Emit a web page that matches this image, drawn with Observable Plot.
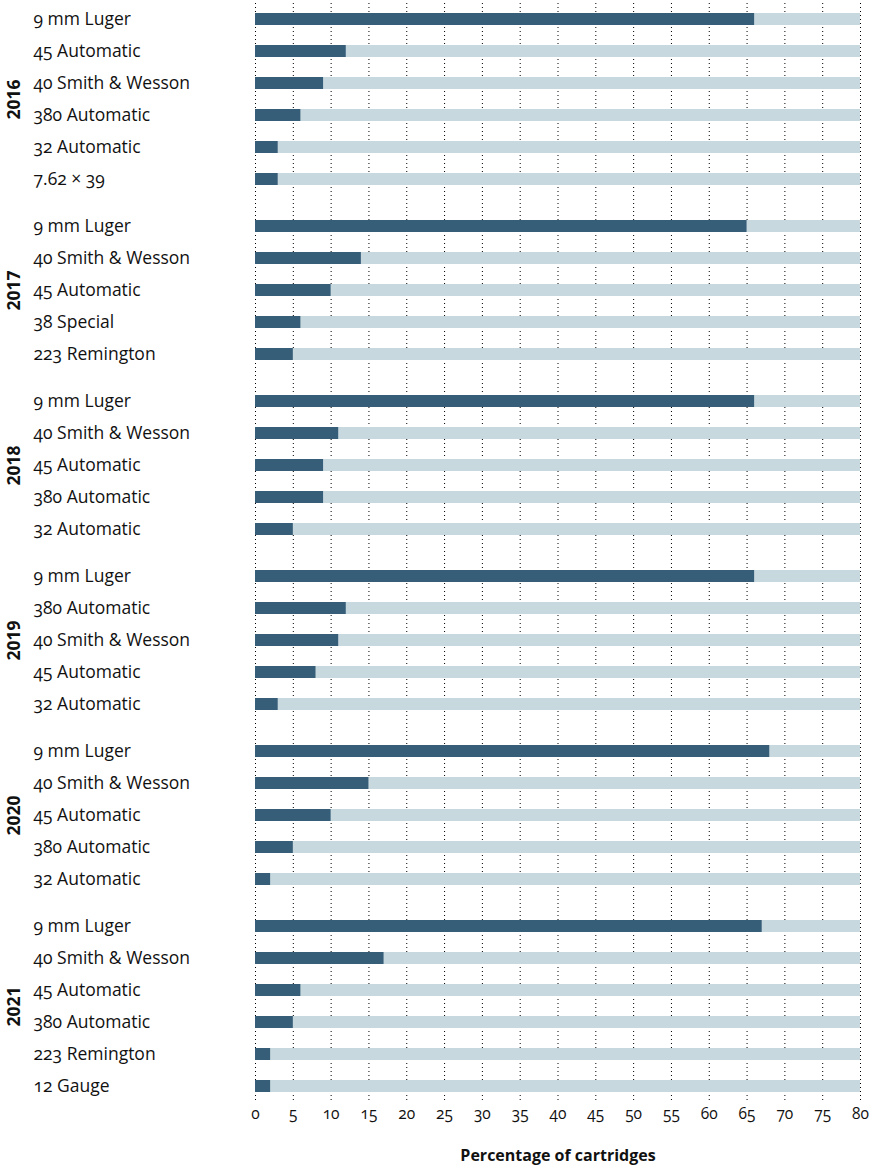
<!DOCTYPE html>
<html>
<head>
<meta charset="utf-8">
<script src="https://cdn.jsdelivr.net/npm/d3@7"></script>
<script src="https://cdn.jsdelivr.net/npm/@observablehq/plot@0.6"></script>
<style>
  body { margin: 0; background: #fff; }
  #chart svg { font-family: "Open Sans", Lato, sans-serif; font-variant-numeric: oldstyle-nums; font-feature-settings: "onum"; }
  #chart g[aria-label="x-axis label"] text { font-weight: bold; font-size: 16px; font-variant-numeric: lining-nums; }
  #chart .year-label text { font-variant-numeric: lining-nums; font-feature-settings: "lnum"; }
</style>
</head>
<body>
<div id="chart"></div>
<script>
const years = ["2016", "2017", "2018", "2019", "2020", "2021"];
const cartridges2016 = ["9 mm Luger", "45 Automatic", "40 Smith & Wesson", "380 Automatic", "32 Automatic", "7.62 × 39"];
const values2016 = [66, 12, 9, 6, 3, 3];
const cartridges2017 = ["9 mm Luger", "40 Smith & Wesson", "45 Automatic", "38 Special", "223 Remington"];
const values2017 = [65, 14, 10, 6, 5];
const cartridges2018 = ["9 mm Luger", "40 Smith & Wesson", "45 Automatic", "380 Automatic", "32 Automatic"];
const values2018 = [66, 11, 9, 9, 5];
const cartridges2019 = ["9 mm Luger", "380 Automatic", "40 Smith & Wesson", "45 Automatic", "32 Automatic"];
const values2019 = [66, 12, 11, 8, 3];
const cartridges2020 = ["9 mm Luger", "40 Smith & Wesson", "45 Automatic", "380 Automatic", "32 Automatic"];
const values2020 = [68, 15, 10, 5, 2];
const cartridges2021 = ["9 mm Luger", "40 Smith & Wesson", "45 Automatic", "380 Automatic", "223 Remington", "12 Gauge"];
const values2021 = [67, 17, 6, 5, 2, 2];
const xTicks = [0, 5, 10, 15, 20, 25, 30, 35, 40, 45, 50, 55, 60, 65, 70, 75, 80];
const xLabel = "Percentage of cartridges";

const cartridgeLists = [cartridges2016, cartridges2017, cartridges2018, cartridges2019, cartridges2020, cartridges2021];
const valueLists = [values2016, values2017, values2018, values2019, values2020, values2021];

const groupGap = 15 / 32; // extra space between year groups, in row units
const rows = [];
let idx = 0;
years.forEach((year, g) => {
  cartridgeLists[g].forEach((c, i) => {
    rows.push({year, cartridge: c, pct: valueLists[g][i], pos: idx + g * groupGap});
    idx++;
  });
});
const groups = years.map(year => {
  const r = rows.filter(d => d.year === year);
  return {year, pos: d3.mean(r, d => d.pos)};
});
const maxPos = d3.max(rows, d => d.pos);
const xMax = xTicks[xTicks.length - 1];

const chart = Plot.plot({
  width: 877,
  height: 1166,
  marginLeft: 255,
  marginRight: 17,
  marginTop: 3,
  marginBottom: 64,
  x: {domain: [0, xMax]},
  y: {domain: [-0.5, maxPos + 0.5], reverse: true, axis: null},
  marks: [
    Plot.gridX(xTicks, {stroke: "#000", strokeOpacity: 1, strokeDasharray: "1,3", strokeWidth: 1}),
    Plot.rectX(rows, {x1: 0, x2: xMax, y1: d => d.pos - 0.5, y2: d => d.pos + 0.5, insetTop: 10, insetBottom: 10, fill: "#c7d8df"}),
    Plot.rectX(rows, {x1: 0, x2: "pct", y1: d => d.pos - 0.5, y2: d => d.pos + 0.5, insetTop: 10, insetBottom: 10, fill: "#375e79"}),
    Plot.text(rows, {y: "pos", text: "cartridge", frameAnchor: "left", dx: -222, textAnchor: "start", fontSize: 17.5, fill: "#111"}),
    Plot.text(groups, {y: "pos", text: "year", frameAnchor: "left", dx: -241, rotate: -90, textAnchor: "middle", fontSize: 17.5, fontWeight: "bold", fill: "#111", className: "year-label"}),
    Plot.axisX(xTicks, {tickSize: 0, tickPadding: 5, fontSize: 15.5, label: xLabel, labelAnchor: "center", labelOffset: 58, labelArrow: "none", color: "#111"})
  ]
});
document.getElementById("chart").appendChild(chart);
</script>
</body>
</html>
